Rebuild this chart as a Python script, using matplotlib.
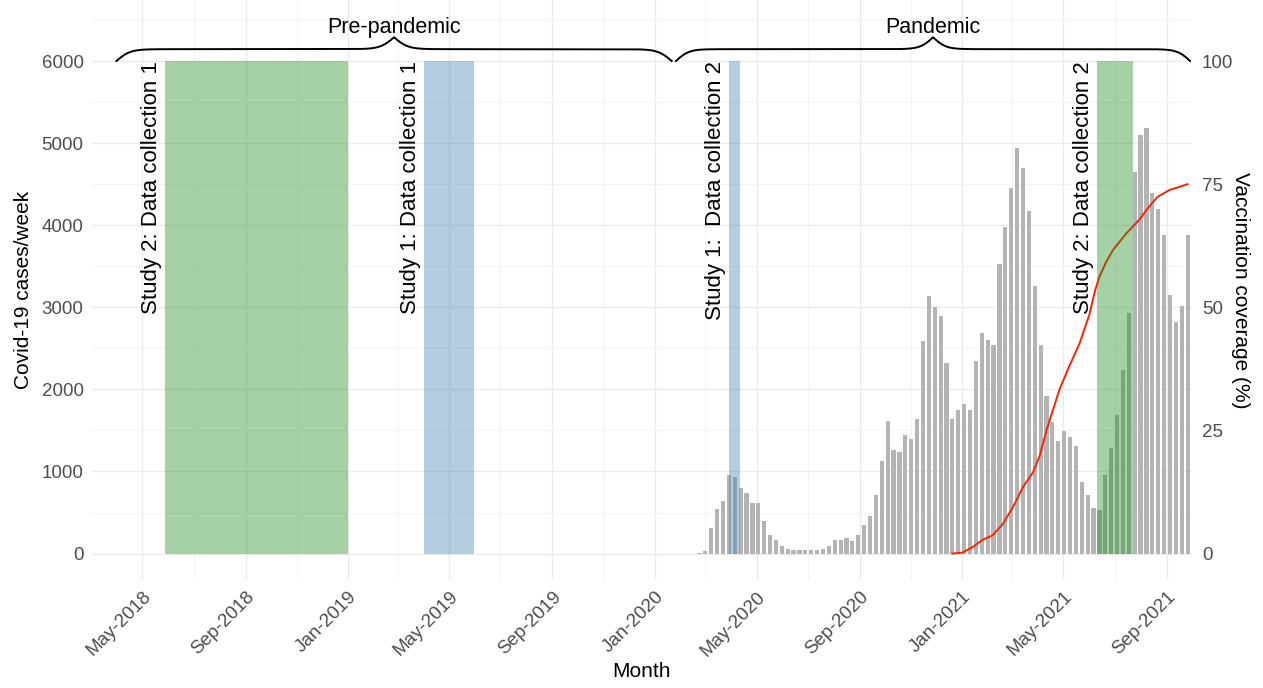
import datetime as dt
import matplotlib
matplotlib.use("Agg")
import matplotlib.pyplot as plt
import matplotlib.dates as mdates
import numpy as np

plt.rcParams['font.family'] = ['Liberation Sans', 'DejaVu Sans']

# weekly covid-19 cases, first week starting 2020-02-23
week_start = dt.date(2020, 2, 23)
cases = [12, 37, 317, 537, 638, 963, 930, 793, 740, 618,
         618, 394, 224, 167, 98, 57, 49, 49, 45, 41,
         41, 57, 89, 171, 171, 185, 148, 226, 345, 461,
         713, 1124, 1618, 1264, 1236, 1439, 1398, 1638, 2589, 3134,
         3004, 2894, 2317, 1642, 1744, 1817, 1744, 2340, 2693, 2602,
         2543, 3533, 3984, 4451, 4939, 4703, 4179, 3260, 2545, 1923,
         1598, 1374, 1492, 1419, 1305, 878, 715, 553, 533, 963,
         1289, 1683, 2236, 2927, 4650, 5098, 5180, 4394, 4203, 3886,
         3155, 2817, 3012, 3878]
week_dates = [week_start + dt.timedelta(days=7 * i) for i in range(len(cases))]

# vaccination coverage (%)
vacc_dates = ["2020-12-20", "2021-01-01", "2021-01-13", "2021-01-25", "2021-02-06",
              "2021-02-18", "2021-03-02", "2021-03-14", "2021-03-26", "2021-04-03",
              "2021-04-11", "2021-04-26", "2021-05-08", "2021-05-20", "2021-06-01",
              "2021-06-08", "2021-06-13", "2021-06-21", "2021-06-29", "2021-07-15",
              "2021-07-30", "2021-08-11", "2021-08-21", "2021-09-04", "2021-09-26"]
vacc_pct = [0, 0.2, 1.3, 2.8, 3.7, 6.0, 9.4, 13.5, 16.5, 19.9,
            25.0, 33.1, 38.0, 42.5, 48.5, 53.5, 56.2, 59.2, 61.6, 65.0,
            67.7, 70.4, 72.4, 73.8, 75.0]

# data collection periods
periods = [("2018-05-28", "2019-01-01", "forestgreen", "Study 2: Data collection 1"),
           ("2019-04-01", "2019-05-31", "steelblue", "Study 1: Data collection 1"),
           ("2020-03-29", "2020-04-11", "steelblue", "Study 1:  Data collection 2"),
           ("2021-06-10", "2021-07-23", "forestgreen", "Study 2: Data collection 2")]

eras = [("2018-03-31", "2020-01-21", "Pre-pandemic"),
        ("2020-01-26", "2021-09-29", "Pandemic")]

SCALE = 60  # 100 % -> 6000 cases

def d(s):
    return mdates.date2num(dt.date.fromisoformat(s))

fig = plt.figure(figsize=(12.63, 6.88), dpi=100)
ax = fig.add_axes([92 / 1263, 108 / 688, 1099 / 1263, 580 / 688])

ax.bar(mdates.date2num(week_dates), cases, width=5, color='#b4b4b4', zorder=2)
ax.plot([d(s) for s in vacc_dates], np.array(vacc_pct) * SCALE,
        color='#ff2200', lw=1.4, zorder=3)

for start, end, col, label in periods:
    ax.fill_between([d(start), d(end)], 0, 6000, color=col, alpha=0.4,
                    lw=0, zorder=4)
    ax.text(d(start) - 4, 6000, label, rotation=90, ha='right', va='top',
            fontsize=16, color='black', zorder=5)

# curly braces over the two periods
for start, end, label in eras:
    x0, x1 = d(start), d(end)
    u = np.linspace(0, 1, 400)
    beta = 40
    half = 1 / (1 + np.exp(-beta * u)) + 1 / (1 + np.exp(-beta * (u - 1)))
    yy = np.concatenate([half, half[-2::-1]])
    xx = np.linspace(x0, x1, len(yy))
    ax.plot(xx, 6000 + (yy - 0.5) * 290, color='black', lw=1.4, zorder=5)
    ax.text((x0 + x1) / 2, 6405, label, ha='center', va='center', fontsize=15.5)

ax.set_xlim(d("2018-03-02"), d("2021-09-30"))
ax.set_ylim(-322, 6744)

ax.xaxis.set_major_locator(mdates.MonthLocator(bymonth=[1, 5, 9]))
ax.xaxis.set_minor_locator(mdates.MonthLocator(bymonth=[3, 7, 11]))
ax.xaxis.set_major_formatter(mdates.DateFormatter('%b-%Y'))
ax.set_yticks(range(0, 6001, 1000))
ax.set_yticks(range(500, 6600, 1000), minor=True)

for lbl in ax.get_xticklabels():
    lbl.set_rotation(45)
    lbl.set_ha('right')
    lbl.set_rotation_mode('anchor')

ax.grid(which='major', color='#ebebeb', lw=1.0, zorder=0)
ax.grid(which='minor', color='#f3f3f3', lw=0.7, zorder=0)
ax.set_axisbelow(True)
for s in ax.spines.values():
    s.set_visible(False)
ax.tick_params(which='both', length=0, labelsize=13.5, labelcolor='#4d4d4d')
ax.tick_params(axis='x', pad=6)
ax.tick_params(axis='y', pad=6)

ax.set_xlabel("Month", fontsize=15, labelpad=2)
ax.set_ylabel("Covid-19 cases/week", fontsize=15, labelpad=6)

sec = ax.secondary_yaxis('right', functions=(lambda y: y / SCALE, lambda y: y * SCALE))
sec.set_yticks([0, 25, 50, 75, 100])
sec.tick_params(length=0, labelsize=13.5, labelcolor='#4d4d4d', pad=8)
for s in sec.spines.values():
    s.set_visible(False)
sec.set_ylabel("Vaccination coverage (%)", fontsize=15, rotation=-90, labelpad=12)

fig.savefig("out.png", dpi=100)
